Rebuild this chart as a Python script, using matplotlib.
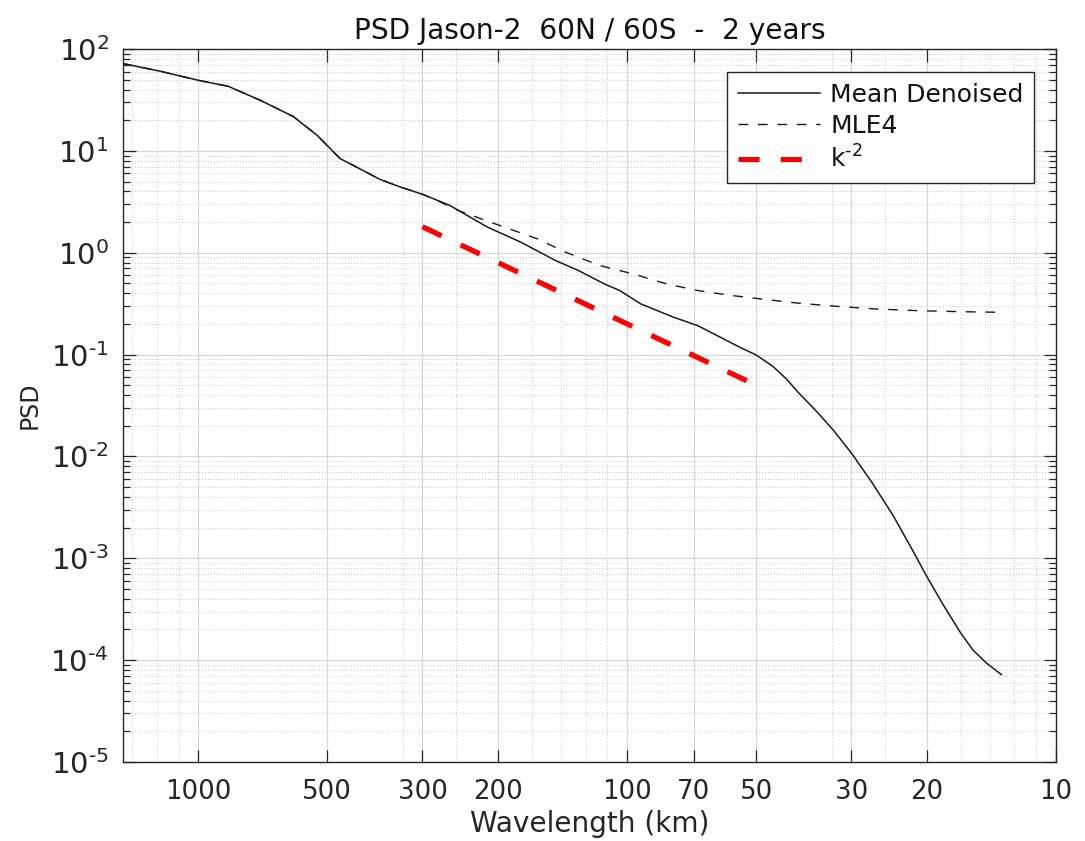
import numpy as np
import matplotlib
matplotlib.use("Agg")
import matplotlib.pyplot as plt
from matplotlib.ticker import FixedLocator, FixedFormatter, LogLocator, NullFormatter

# Mean denoised spectrum (wavelength in km, PSD)
wl_mean = [1500, 1226, 1000, 851, 717, 600, 528, 467, 435, 377, 338, 299, 259,
           212, 177, 147, 130, 113, 104, 93, 78, 68.4, 58.5, 54.6, 50, 45.7, 42.5,
           39.8, 36.4, 33.0, 29.9, 26.9, 24.0, 21.6, 20.0, 18.4, 16.7, 15.6,
           14.5, 13.4]
psd_mean = [72, 60.5, 49.3, 43, 31.4, 21.7, 14.2, 8.4, 7.2, 5.25, 4.42, 3.73, 2.91,
            1.79, 1.27, 0.84, 0.67, 0.494, 0.425, 0.315, 0.233, 0.192, 0.137, 0.118,
            0.099, 0.0765, 0.0575, 0.0420, 0.0285, 0.0180, 0.0106, 0.00560,
            0.00265, 0.00120, 6.6e-4, 3.6e-4, 1.86e-4, 1.25e-4, 9.3e-5, 7.2e-5]

# MLE4 retracker spectrum
wl_mle4 = [1500, 1226, 1000, 851, 717, 600, 528, 467, 435, 377, 338, 299, 283,
           248, 203, 162, 139, 116, 97, 81, 68.4, 57, 48.8, 40, 32.6, 26.2,
           21.1, 16.9, 13.4]
psd_mle4 = [72, 60.5, 49.3, 43, 31.4, 21.7, 14.2, 8.4, 7.2, 5.25, 4.42, 3.73, 3.39,
            2.6, 1.92, 1.37, 1.01, 0.75, 0.62, 0.495, 0.425, 0.38, 0.352, 0.32,
            0.298, 0.28, 0.27, 0.264, 0.26]

# k^-2 reference slope
ref_wl = [300, 50]
ref_coef = 2e-5

# Axis ticks
xtick_wl = [1000, 500, 300, 200, 100, 70, 50, 30, 20, 10]
ytick_exp = [-5, -4, -3, -2, -1, 0, 1, 2]

plt.rcParams["font.family"] = "DejaVu Sans"
plt.rcParams["mathtext.fontset"] = "dejavusans"

TXT = "#262626"

fig = plt.figure(figsize=(10.85, 8.41), dpi=100)
ax = fig.add_axes([122.7 / 1085, 1 - 762 / 841, (1056 - 122.7) / 1085, (762 - 49) / 841])

k_mean = 1.0 / np.array(wl_mean)
k_mle4 = 1.0 / np.array(wl_mle4)
k_ref = 1.0 / np.array(ref_wl, dtype=float)
psd_ref = ref_coef * k_ref ** -2

ax.plot(k_mean, psd_mean, color="#1a1a1a", lw=1.1, label="Mean Denoised")
ax.plot(k_mle4, psd_mle4, color="#1a1a1a", lw=1.0, dashes=(7, 7), label="MLE4")
ax.plot(k_ref, psd_ref, color="#ff0000", lw=3.8, dashes=(4, 4),
        label=r"k$^{\text{-}2}$")

ax.set_xscale("log")
ax.set_yscale("log")
ax.set_xlim(1 / 1500, 1 / 10)
ax.set_ylim(1e-5, 1e2)

ax.xaxis.set_major_locator(FixedLocator(1.0 / np.array(xtick_wl, dtype=float)))
ax.xaxis.set_major_formatter(FixedFormatter([str(w) for w in xtick_wl]))
ax.xaxis.set_minor_locator(LogLocator(base=10, subs=np.arange(2, 10), numticks=50))
ax.xaxis.set_minor_formatter(NullFormatter())

ax.yaxis.set_major_locator(FixedLocator([10.0 ** e for e in ytick_exp]))
ax.yaxis.set_major_formatter(FixedFormatter(
    [r"$10^{%s}$" % (r"\text{-}%d" % -e if e < 0 else "%d" % e) for e in ytick_exp]))
ax.yaxis.set_minor_locator(LogLocator(base=10, subs=np.arange(2, 10), numticks=50))
ax.yaxis.set_minor_formatter(NullFormatter())

ax.set_axisbelow(True)
ax.grid(True, which="major", color="#d6d6d6", lw=0.8, ls="-")
ax.grid(True, which="minor", color="#c4c4c4", lw=0.7, ls=(0, (1, 2)))

ax.tick_params(which="both", direction="in", top=True, right=True,
               colors=TXT, width=0.9)
ax.tick_params(which="major", length=9)
ax.tick_params(which="minor", length=5)
ax.tick_params(axis="x", which="minor", length=0)
ax.tick_params(axis="x", which="major", pad=12, labelsize=18.7)
ax.tick_params(axis="y", which="major", pad=10, labelsize=21)
for s in ax.spines.values():
    s.set_color(TXT)
    s.set_linewidth(1.0)

ax.set_title("PSD Jason-2  60N / 60S  -  2 years", fontsize=20.2, pad=7, color="#111111")
ax.set_xlabel("Wavelength (km)", fontsize=20.2, color=TXT, labelpad=4)
ax.set_ylabel("PSD", fontsize=17, color=TXT, labelpad=6)

leg = ax.legend(loc="upper right", bbox_to_anchor=(1 - 22 / 933.3, 1 - 23 / 713),
                fontsize=18, handlelength=3.3, handletextpad=0.4, borderpad=0.42,
                labelspacing=0.3, fancybox=False, framealpha=1, borderaxespad=0)
leg.get_frame().set_edgecolor(TXT)
leg.get_frame().set_linewidth(1.0)
for t in leg.get_texts():
    t.set_color("#111111")

fig.savefig("out.png", dpi=100)
